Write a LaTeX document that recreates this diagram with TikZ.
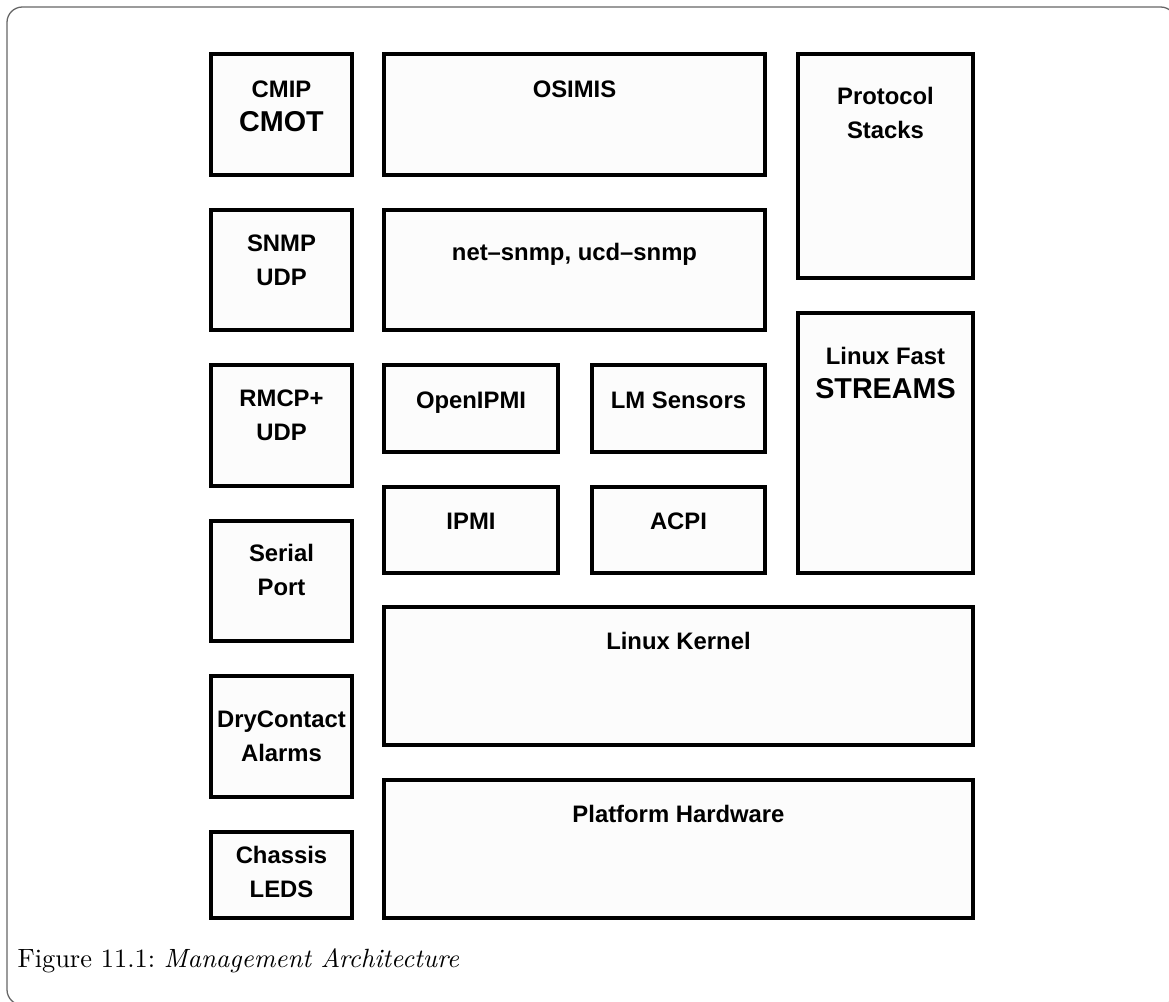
\documentclass[tikz,border=0pt]{standalone}
\usepackage{fontspec}
\setsansfont{Liberation Sans}
\usepackage{tikz}
\usetikzlibrary{positioning, fit, calc}
\tikzset{
    mgmtbox/.style={rectangle, draw=black, fill=black!1, line width=1.2pt, inner sep=0pt},
    mgmtlabel/.style={font=\sffamily\bfseries\fontsize{9.3}{13.3}\selectfont, align=center, anchor=base, inner sep=0pt},
    mgmtframe/.style={draw=black!60, line width=0.5pt, rounded corners=6pt},
    mgmtcaption/.style={anchor=base west, inner sep=0pt, font=\fontsize{10.3}{12}\selectfont}
}
\newcommand{\mgmtbig}{\fontsize{11.2}{13.3}\selectfont}

\begin{document}
\begin{tikzpicture}[x=0.39pt, y=-0.39pt]
\useasboundingbox (0,0) rectangle (1169,1002);

\begin{scope}
\clip (0,0) rectangle (1169,1002);
\draw[mgmtframe] (7,7) rectangle (1176,1005);
\end{scope}

% left column
\node[mgmtbox, fit={(211,54) (352,175)}] (cmip) {};
\node[mgmtbox, fit={(211,210) (352,330)}] (snmp) {};
\node[mgmtbox, fit={(211,365) (352,486)}] (rmcp) {};
\node[mgmtbox, fit={(211,521) (352,641)}] (serial) {};
\node[mgmtbox, fit={(211,676) (352,797)}] (drycontact) {};
\node[mgmtbox, fit={(211,832) (352,918)}] (chassis) {};

% middle
\node[mgmtbox, fit={(384,54) (765,175)}] (osimis) {};
\node[mgmtbox, fit={(384,210) (765,330)}] (netsnmp) {};
\node[mgmtbox, fit={(384,365) (558,452)}] (openipmi) {};
\node[mgmtbox, fit={(592,365) (765,452)}] (lmsensors) {};
\node[mgmtbox, fit={(384,487) (558,573)}] (ipmi) {};
\node[mgmtbox, fit={(592,487) (765,573)}] (acpi) {};

% right and bottom
\node[mgmtbox, fit={(798,54) (973,278)}] (stacks) {};
\node[mgmtbox, fit={(798,313) (973,573)}] (streams) {};
\node[mgmtbox, fit={(384,607) (973,745)}] (kernel) {};
\node[mgmtbox, fit={(384,780) (973,918)}] (hardware) {};

% labels: base is the last line
\node[mgmtlabel] (cmiptxt) at ($(cmip.north)+(0,79)$) {CMIP\\\mgmtbig CMOT};
\node[mgmtlabel] (snmptxt) at ($(snmp.north)+(0,77)$) {SNMP\\UDP};
\node[mgmtlabel] (rmcptxt) at ($(rmcp.north)+(0,77)$) {RMCP+\\UDP};
\node[mgmtlabel] (serialtxt) at ($(serial.north)+(0,76)$) {Serial\\Port};
\node[mgmtlabel] (drycontacttxt) at ($(drycontact.north)+(0,87)$) {DryContact\\Alarms};
\node[mgmtlabel] (chassistxt) at ($(chassis.north)+(0,67)$) {Chassis\\LEDS};
\node[mgmtlabel] (osimistxt) at ($(osimis.north)+(0,45)$) {OSIMIS};
\node[mgmtlabel] (netsnmptxt) at ($(netsnmp.north)+(0,52)$) {net--snmp, ucd--snmp};
\node[mgmtlabel] (openipmitxt) at ($(openipmi.north)+(0,45)$) {OpenIPMI};
\node[mgmtlabel] (lmsensorstxt) at ($(lmsensors.north)+(0,45)$) {LM Sensors};
\node[mgmtlabel] (ipmitxt) at ($(ipmi.north)+(0,44)$) {IPMI};
\node[mgmtlabel] (acpitxt) at ($(acpi.north)+(0,44)$) {ACPI};
\node[mgmtlabel] (stackstxt) at ($(stacks.north)+(0,86)$) {Protocol\\Stacks};
\node[mgmtlabel] (streamstxt) at ($(streams.north)+(0,87)$) {Linux Fast\\\mgmtbig STREAMS};
\node[mgmtlabel] (kerneltxt) at ($(kernel.north)+(0,44)$) {Linux Kernel};
\node[mgmtlabel] (hardwaretxt) at ($(hardware.north)+(0,44)$) {Platform Hardware};

\node[mgmtcaption] (caption) at (17,967) {Figure 11.1:\ \textit{Management Architecture}};
\end{tikzpicture}
\end{document}
